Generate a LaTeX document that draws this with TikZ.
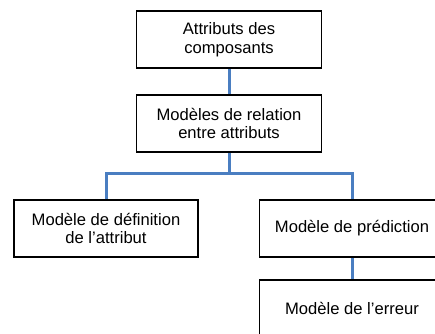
\documentclass[tikz,border=0pt]{standalone}
\usepackage{fontspec}
\setmainfont{Liberation Sans}
\definecolor{linkblue}{RGB}{74,126,193}
\tikzset{
  box/.style={draw=black, line width=1.5pt, minimum width=185pt, minimum height=57pt,
    inner sep=0pt, align=center, font=\fontsize{16.6}{18.5}\selectfont},
  link/.style={draw=linkblue, line width=3pt}
}
\begin{document}
\begin{tikzpicture}[x=1pt,y=-1pt]
\useasboundingbox (0,0) rectangle (435,333);
\clip (0,0) rectangle (435,333);
\node[box] (a) at (229,39.5) {Attributs des\\composants};
\node[box] (b) at (229,123.5) {Modèles de relation\\entre attributs};
\node[box, minimum width=184pt] (c) at (106,228.5) {Modèle de définition\\de l’attribut};
\node[box] (d) at (352,228.5) {Modèle de prédiction};
\node[box] (e) at (352,308.5) {Modèle de l’erreur};
\coordinate (j) at (229,173);
\draw[link] (a.south) -- (b.north);
\draw[link] (b.south) -- (j);
\draw[link] (c.north) |- (j) -| (d.north);
\draw[link] (d.south) -- (e.north);
\end{tikzpicture}
\end{document}
